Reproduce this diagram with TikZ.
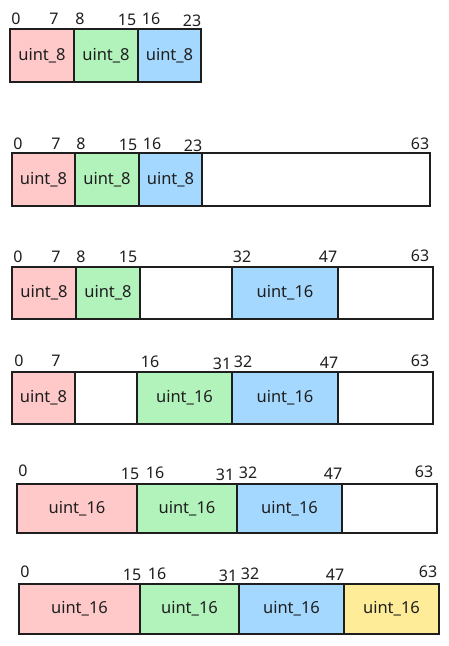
\documentclass[tikz,border=0pt]{standalone}
\usepackage{fontspec}
\setmainfont{Noto Sans}
\usepackage{tikz}
\usetikzlibrary{positioning}
\definecolor{lightred}{HTML}{FFC9C9}
\definecolor{lightgreen}{HTML}{B2F2BB}
\definecolor{lightblue}{HTML}{A5D8FF}
\definecolor{lightyellow}{HTML}{FFEC99}
\definecolor{inkgray}{HTML}{1E1E1E}
\tikzset{
  field/.style={draw=inkgray,line width=1.2pt,inner sep=0pt,text=inkgray,
    font=\fontsize{16.5}{18}\selectfont},
  bitno/.style={inner sep=0pt,text=inkgray,font=\fontsize{16}{18}\selectfont}
}
\newcommand{\drawfield}[7]{
  \node[field,fill=#6,minimum width=#3-#2,minimum height=#5-#4]
    (#1) at ({(#2+#3)/2},{(#4+#5)/2}) {#7};
}

\begin{document}
\begin{tikzpicture}[x=1pt,y=-1pt]
      \useasboundingbox (0,0) rectangle (449,646);
      %% row 1
      \drawfield{ra1}{10}{74}{29}{82}{lightred}{uint\_8};
      \drawfield{ra2}{74}{138}{29}{82}{lightgreen}{uint\_8};
      \drawfield{ra3}{138}{201}{29}{82}{lightblue}{uint\_8};
      \node[bitno] (la0) at (16,19) {0};
      \node[bitno] (la7) at (54,19) {7};
      \node[bitno] (la8) at (80,19) {8};
      \node[bitno] (la15) at (127,20) {15};
      \node[bitno] (la16) at (151,19) {16};
      \node[bitno] (la23) at (192,21) {23};
      %% row 2
      \drawfield{rb1}{12}{75}{153}{206}{lightred}{uint\_8};
      \drawfield{rb2}{75}{139}{153}{206}{lightgreen}{uint\_8};
      \drawfield{rb3}{139}{202}{153}{206}{lightblue}{uint\_8};
      \drawfield{rb4}{202}{430}{153}{206}{white}{};
      \node[bitno] (lb0) at (18,144) {0};
      \node[bitno] (lb7) at (56,144) {7};
      \node[bitno] (lb8) at (81,144) {8};
      \node[bitno] (lb15) at (128,145) {15};
      \node[bitno] (lb16) at (152,144) {16};
      \node[bitno] (lb23) at (193,146) {23};
      \node[bitno] (lb63) at (420,144) {63};
      %% row 3
      \drawfield{rc1}{12}{76}{267}{319}{lightred}{uint\_8};
      \drawfield{rc2}{76}{140}{267}{319}{lightgreen}{uint\_8};
      \drawfield{rc3}{140}{232}{267}{319}{white}{};
      \drawfield{rc4}{232}{338}{267}{319}{lightblue}{uint\_16};
      \drawfield{rc5}{338}{433}{267}{319}{white}{};
      \node[bitno] (lc0) at (18,257) {0};
      \node[bitno] (lc7) at (56,257) {7};
      \node[bitno] (lc8) at (81,257) {8};
      \node[bitno] (lc15) at (128,257) {15};
      \node[bitno] (lc32) at (242,257) {32};
      \node[bitno] (lc47) at (328,257) {47};
      \node[bitno] (lc63) at (420,256) {63};
      %% row 4
      \drawfield{rd1}{12}{75}{372}{424}{lightred}{uint\_8};
      \drawfield{rd2}{75}{137}{372}{424}{white}{};
      \drawfield{rd3}{137}{232}{372}{424}{lightgreen}{uint\_16};
      \drawfield{rd4}{232}{338}{372}{424}{lightblue}{uint\_16};
      \drawfield{rd5}{338}{433}{372}{424}{white}{};
      \node[bitno] (ld0) at (19,361) {0};
      \node[bitno] (ld7) at (56,361) {7};
      \node[bitno] (ld16) at (150,362) {16};
      \node[bitno] (ld31) at (222,364) {31};
      \node[bitno] (ld32) at (243,362) {32};
      \node[bitno] (ld47) at (329,363) {47};
      \node[bitno] (ld63) at (420,361) {63};
      %% row 5
      \drawfield{re1}{17}{137}{484}{533}{lightred}{uint\_16};
      \drawfield{re2}{137}{237}{484}{533}{lightgreen}{uint\_16};
      \drawfield{re3}{237}{342}{484}{533}{lightblue}{uint\_16};
      \drawfield{re4}{342}{437}{484}{533}{white}{};
      \node[bitno] (le0) at (23,471) {0};
      \node[bitno] (le15) at (130,474) {15};
      \node[bitno] (le16) at (155,473) {16};
      \node[bitno] (le31) at (225,475) {31};
      \node[bitno] (le32) at (248,473) {32};
      \node[bitno] (le47) at (333,474) {47};
      \node[bitno] (le63) at (424,472) {63};
      %% row 6
      \drawfield{rf1}{19}{140}{584}{634}{lightred}{uint\_16};
      \drawfield{rf2}{140}{239}{584}{634}{lightgreen}{uint\_16};
      \drawfield{rf3}{239}{344}{584}{634}{lightblue}{uint\_16};
      \drawfield{rf4}{344}{439}{584}{634}{lightyellow}{uint\_16};
      \node[bitno] (lf0) at (25,572) {0};
      \node[bitno] (lf15) at (132,575) {15};
      \node[bitno] (lf16) at (157,574) {16};
      \node[bitno] (lf31) at (228,576) {31};
      \node[bitno] (lf32) at (250,574) {32};
      \node[bitno] (lf47) at (335,575) {47};
      \node[bitno] (lf63) at (428,572) {63};
    \end{tikzpicture}
\end{document}
